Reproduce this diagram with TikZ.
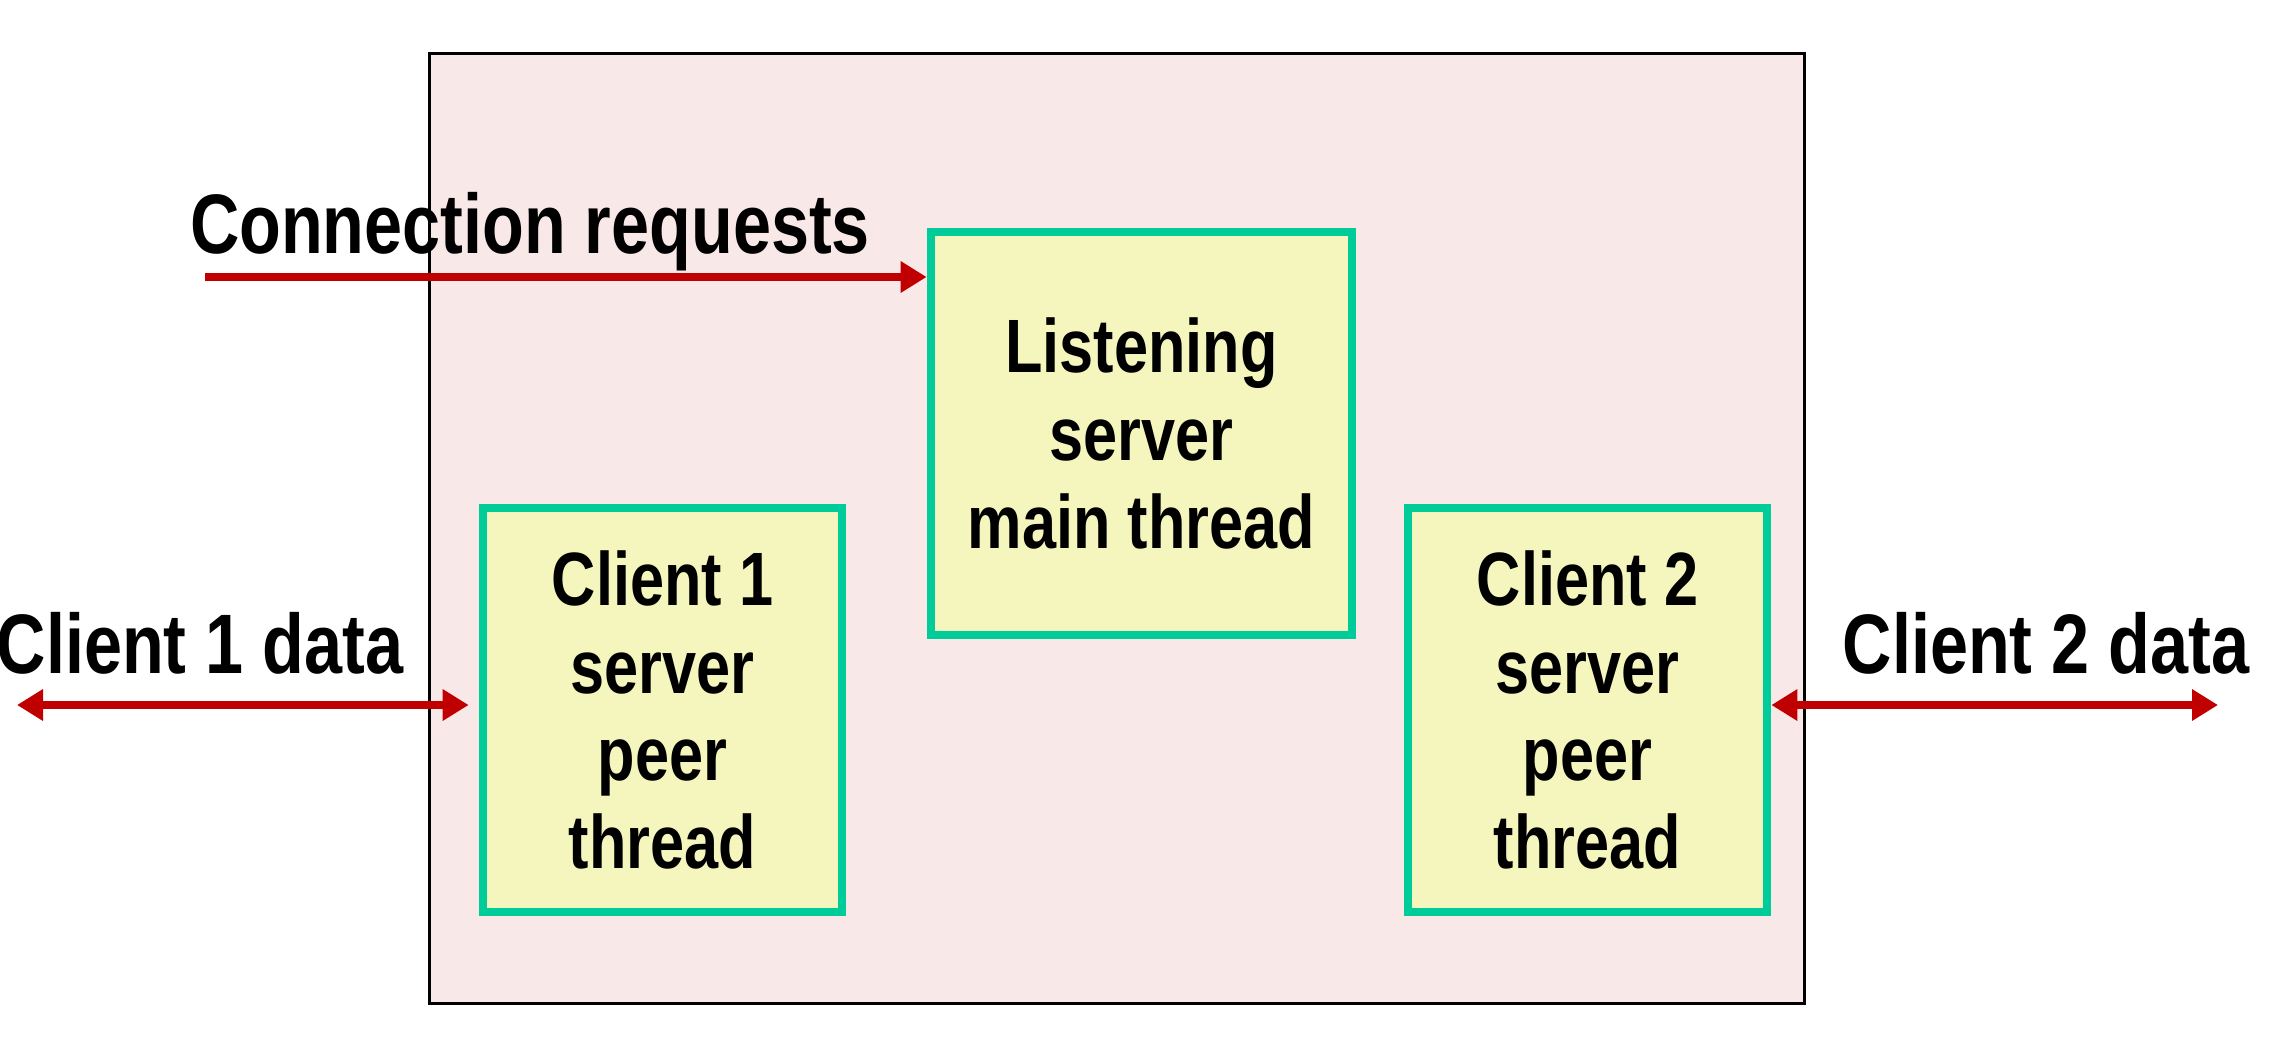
\documentclass[tikz,border=0pt]{standalone}
\usepackage{fontspec}
\setmainfont[FakeStretch=0.81]{Liberation Sans}
\usepackage{tikz}
\usetikzlibrary{arrows.meta, positioning}
\definecolor{cPink}{RGB}{249,232,232}
\definecolor{cYellow}{RGB}{245,245,190}
\definecolor{cTeal}{RGB}{0,204,153}
\definecolor{cRed}{RGB}{192,0,0}
\tikzset{
	frame/.style    ={rectangle, draw=black, line width=0.03cm, fill=cPink, inner sep=0pt},
	thread/.style   ={rectangle, draw=cTeal, line width=0.085cm, fill=cYellow, align=center, inner sep=0pt, font=\fontsize{21.5}{25}\selectfont\bfseries},
	lbl/.style      ={align=center, inner sep=0pt},
	reqarrow/.style ={-{Triangle[length=0.26cm, width=0.3cm]}, line width=0.08cm, cRed},
	datarrow/.style ={{Triangle[length=0.26cm, width=0.3cm]}-{Triangle[length=0.26cm, width=0.3cm]}, line width=0.08cm, cRed},
}

\begin{document}
\begin{tikzpicture}[x=0.01cm, y=-0.01cm, font=\fontsize{24}{25}\selectfont\bfseries]
	\useasboundingbox (0,0) rectangle (2276,1042);
	\node[frame, minimum width=13.74cm, minimum height=9.49cm] (box) at (1117,528.5) {};
	\node[thread, minimum width=4.21cm, minimum height=4.03cm] (lst) at (1141.5,433.5) {Listening\\server\\main thread};
	\node[thread, minimum width=3.59cm, minimum height=4.04cm] (cl1) at (662.5,710) {Client 1\\server\\peer\\thread};
	\node[thread, minimum width=3.59cm, minimum height=4.04cm] (cl2) at (1587.5,710) {Client 2\\server\\peer\\thread};
	% labels
	\node[lbl] (req) at (530,232) {Connection requests};
	\node[lbl] (d1) at (200,643) {Client 1 data};
	\node[lbl] (d2) at (2046,643) {Client 2 data};
	% connectors
	\coordinate (reqstart) at (205,277);
	\coordinate (d1end) at (17,705);
	\coordinate (d2end) at (2218,705);
	\draw[reqarrow] (reqstart) -- (reqstart -| lst.west);
	\draw[datarrow, shorten >=0.1cm] (d1end) -- (d1end -| cl1.west);
	\draw[datarrow] (cl2.east |- d2end) -- (d2end);
\end{tikzpicture}
\end{document}
